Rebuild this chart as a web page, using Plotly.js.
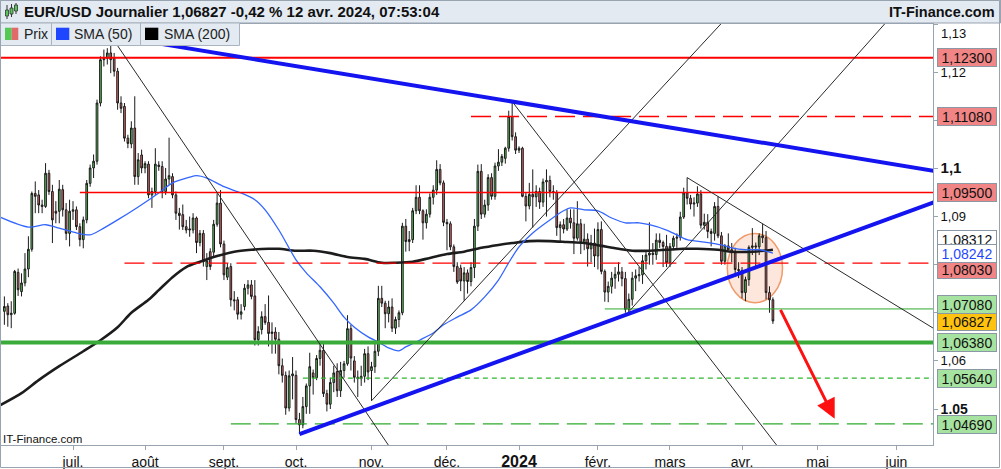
<!DOCTYPE html>
<html>
<head>
<meta charset="utf-8">
<script src="https://cdn.plot.ly/plotly-3.0.1.min.js"></script>
<style>
html,body{margin:0;padding:0;background:#fff;}
#chart{width:1001px;height:469px;}
</style>
</head>
<body>
<div id="chart"></div>
<script>
// ---------------- DATA ----------------
const firstSession = '2023-06-05';
// daily candles [open, high, low, close], one row per weekday
const ohlcJun23 = [
 [1.0703,1.0734,1.0675,1.0713],[1.0714,1.0720,1.0671,1.0696],[1.0696,1.0724,1.0668,1.0699],[1.0699,1.0789,1.0696,1.0786],[1.0784,1.0792,1.0735,1.0748],
 [1.0744,1.0782,1.0734,1.0762],[1.0762,1.0824,1.0755,1.0791],[1.0791,1.0859,1.0774,1.0832],[1.0832,1.0952,1.0827,1.0948],[1.0948,1.0973,1.0907,1.0942],
 [1.0945,1.0955,1.0907,1.0924],[1.0924,1.0935,1.0907,1.0921],[1.0921,1.1011,1.0918,1.0990],[1.0990,1.0997,1.0945,1.0952],[1.0952,1.0966,1.0845,1.0893],
 [1.0911,1.0932,1.0886,1.0907],[1.0911,1.0976,1.0886,1.0957],[1.0956,1.0966,1.0900,1.0914],[1.0914,1.0928,1.0851,1.0865],[1.0865,1.0935,1.0838,1.0911]
];
const ohlcJul23 = [
 [1.0911,1.0932,1.0893,1.0914],[1.0914,1.0921,1.0872,1.0879],[1.0879,1.0886,1.0838,1.0852],[1.0852,1.0900,1.0834,1.0893],[1.0893,1.0976,1.0886,1.0969],
 [1.0969,1.1008,1.0962,1.1001],[1.1001,1.1029,1.0980,1.1015],[1.1015,1.1143,1.1008,1.1136],[1.1136,1.1233,1.1129,1.1226],[1.1226,1.1247,1.1212,1.1229],
 [1.1229,1.1250,1.1216,1.1240],[1.1240,1.1276,1.1198,1.1226],[1.1229,1.1240,1.1191,1.1202],[1.1202,1.1209,1.1122,1.1136],[1.1136,1.1150,1.1115,1.1125],
 [1.1129,1.1136,1.1056,1.1063],[1.1063,1.1070,1.1042,1.1052],[1.1051,1.1098,1.1042,1.1084],[1.1084,1.1150,1.0966,1.0983],[1.0983,1.1032,1.0966,1.1018],
 [1.1028,1.1039,1.0990,1.1001]
];
const ohlcAug23 = [
 [1.1001,1.1015,1.0990,1.1010],[1.1009,1.1015,1.0938,1.0945],[1.0945,1.0960,1.0918,1.0952],[1.0952,1.1042,1.0945,1.1009],
 [1.1007,1.1015,1.0995,1.1004],[1.1004,1.1015,1.0938,1.0952],[1.0952,1.1001,1.0945,1.0978],[1.0978,1.1064,1.0966,1.0985],[1.0983,1.0990,1.0938,1.0945],
 [1.0945,1.0952,1.0893,1.0907],[1.0907,1.0918,1.0873,1.0902],[1.0904,1.0925,1.0872,1.0879],[1.0879,1.0893,1.0865,1.0872],[1.0872,1.0900,1.0858,1.0874],
 [1.0872,1.0907,1.0865,1.0897],[1.0897,1.0900,1.0824,1.0846],[1.0846,1.0872,1.0838,1.0865],[1.0865,1.0872,1.0796,1.0806],[1.0796,1.0824,1.0768,1.0808],
 [1.0827,1.0834,1.0789,1.0796],[1.0826,1.0893,1.0817,1.0884],[1.0884,1.0948,1.0879,1.0928],[1.0928,1.0955,1.0836,1.0843]
];
const ohlcSep23 = [
 [1.0843,1.0850,1.0768,1.0779],
 [1.0774,1.0803,1.0768,1.0794],[1.0796,1.0803,1.0713,1.0727],[1.0727,1.0745,1.0705,1.0725],[1.0727,1.0733,1.0686,1.0697],[1.0697,1.0718,1.0686,1.0702],
 [1.0713,1.0760,1.0705,1.0751],[1.0751,1.0768,1.0738,1.0758],[1.0758,1.0768,1.0728,1.0734],[1.0735,1.0768,1.0632,1.0644],[1.0644,1.0672,1.0632,1.0661],
 [1.0665,1.0703,1.0655,1.0692],[1.0692,1.0718,1.0675,1.0680],[1.0680,1.0736,1.0630,1.0657],[1.0657,1.0680,1.0615,1.0660],[1.0660,1.0670,1.0615,1.0645],
 [1.0645,1.0660,1.0572,1.0590],[1.0590,1.0605,1.0555,1.0570],[1.0570,1.0578,1.0488,1.0502],[1.0502,1.0580,1.0495,1.0569],[1.0569,1.0608,1.0520,1.0573]
];
const ohlcOct23 = [
 [1.0570,1.0580,1.0470,1.0478],[1.0478,1.0492,1.0448,1.0467],[1.0467,1.0525,1.0460,1.0505],[1.0505,1.0553,1.0490,1.0548],[1.0548,1.0617,1.0490,1.0588],
 [1.0575,1.0582,1.0530,1.0565],[1.0565,1.0612,1.0560,1.0605],[1.0605,1.0640,1.0590,1.0622],[1.0622,1.0640,1.0525,1.0532],[1.0532,1.0540,1.0495,1.0510],
 [1.0510,1.0565,1.0500,1.0555],[1.0555,1.0590,1.0535,1.0575],[1.0578,1.0595,1.0525,1.0538],[1.0538,1.0598,1.0525,1.0580],[1.0580,1.0600,1.0565,1.0594],
 [1.0594,1.0695,1.0590,1.0667],[1.0667,1.0675,1.0580,1.0606],[1.0600,1.0610,1.0555,1.0566],[1.0566,1.0580,1.0525,1.0563],[1.0563,1.0590,1.0548,1.0568],
 [1.0568,1.0625,1.0555,1.0615],[1.0615,1.0630,1.0560,1.0577]
];
const ohlcNov23 = [
 [1.0580,1.0598,1.0517,1.0588],[1.0588,1.0640,1.0575,1.0620],[1.0620,1.0756,1.0610,1.0730],
 [1.0730,1.0756,1.0712,1.0720],[1.0720,1.0725,1.0668,1.0698],[1.0698,1.0725,1.0680,1.0712],[1.0712,1.0730,1.0660,1.0668],[1.0668,1.0692,1.0656,1.0686],
 [1.0686,1.0705,1.0670,1.0700],[1.0700,1.0887,1.0695,1.0880],[1.0880,1.0895,1.0827,1.0848],[1.0848,1.0870,1.0828,1.0852],[1.0852,1.0918,1.0845,1.0912],
 [1.0912,1.0965,1.0905,1.0940],[1.0940,1.0965,1.0905,1.0912],[1.0912,1.0915,1.0852,1.0887],[1.0887,1.0915,1.0875,1.0905],[1.0905,1.0948,1.0898,1.0940],
 [1.0940,1.0965,1.0925,1.0955],[1.0955,1.1017,1.0945,1.0998],[1.0998,1.1009,1.0965,1.0970],[1.0970,1.0975,1.0880,1.0888]
];
const ohlcDec23 = [
 [1.0888,1.0895,1.0830,1.0885],
 [1.0885,1.0890,1.0830,1.0837],[1.0837,1.0842,1.0785,1.0796],[1.0796,1.0805,1.0760,1.0764],[1.0793,1.0800,1.0745,1.0766],[1.0766,1.0795,1.0725,1.0783],
 [1.0783,1.0790,1.0740,1.0765],[1.0765,1.0805,1.0755,1.0794],[1.0794,1.0895,1.0772,1.0880],[1.0880,1.1008,1.0870,1.0994],[1.0994,1.1009,1.0895,1.0905],
 [1.0905,1.0935,1.0898,1.0924],[1.0924,1.0988,1.0912,1.0981],[1.0981,1.0990,1.0935,1.0942],[1.0942,1.1012,1.0935,1.1005],[1.1005,1.1040,1.0995,1.1013],
 [1.1013,1.1030,1.1005,1.1025],[1.1021,1.1045,1.1010,1.1042],[1.1042,1.1120,1.1035,1.1108],[1.1108,1.1139,1.1058,1.1066],[1.1066,1.1075,1.1030,1.1038]
];
const ohlcJan24 = [
 [1.1038,1.1046,1.1032,1.1042],[1.1042,1.1045,1.0940,1.0942],[1.0942,1.0950,1.0890,1.0922],[1.0922,1.0970,1.0915,1.0946],[1.0946,1.0998,1.0877,1.0941],
 [1.0941,1.0965,1.0920,1.0952],[1.0952,1.0960,1.0916,1.0930],[1.0930,1.0979,1.0920,1.0972],[1.0972,1.0998,1.0900,1.0975],[1.0975,1.0985,1.0940,1.0952],
 [1.0952,1.0965,1.0935,1.0950],[1.0950,1.0955,1.0860,1.0877],[1.0877,1.0890,1.0845,1.0883],[1.0883,1.0895,1.0865,1.0874],[1.0874,1.0915,1.0870,1.0897],
 [1.0897,1.0915,1.0875,1.0887],[1.0887,1.0915,1.0822,1.0855],[1.0855,1.0932,1.0850,1.0885],[1.0885,1.0895,1.0822,1.0845],[1.0845,1.0885,1.0830,1.0853],
 [1.0853,1.0865,1.0796,1.0833],[1.0833,1.0862,1.0805,1.0845],[1.0845,1.0875,1.0795,1.0818]
];
const ohlcFeb24 = [
 [1.0818,1.0888,1.0790,1.0873],[1.0873,1.0890,1.0780,1.0786],
 [1.0786,1.0790,1.0723,1.0743],[1.0743,1.0765,1.0722,1.0755],[1.0755,1.0785,1.0740,1.0772],[1.0772,1.0795,1.0750,1.0780],[1.0780,1.0805,1.0765,1.0785],
 [1.0785,1.0795,1.0755,1.0771],[1.0771,1.0785,1.0700,1.0707],[1.0707,1.0740,1.0695,1.0728],[1.0728,1.0785,1.0715,1.0772],[1.0772,1.0790,1.0745,1.0777],
 [1.0777,1.0795,1.0765,1.0779],[1.0779,1.0820,1.0760,1.0808],[1.0808,1.0830,1.0790,1.0820],[1.0820,1.0888,1.0800,1.0824],[1.0824,1.0845,1.0800,1.0821],
 [1.0821,1.0865,1.0810,1.0851],[1.0851,1.0865,1.0835,1.0846],[1.0846,1.0850,1.0795,1.0838],[1.0838,1.0862,1.0795,1.0804]
];
const ohlcMar24 = [
 [1.0804,1.0845,1.0795,1.0838],
 [1.0838,1.0860,1.0830,1.0855],[1.0855,1.0865,1.0835,1.0857],[1.0857,1.0910,1.0850,1.0899],[1.0899,1.0960,1.0895,1.0949],[1.0949,1.0981,1.0925,1.0938],
 [1.0938,1.0945,1.0915,1.0926],[1.0926,1.0940,1.0900,1.0928],[1.0928,1.0963,1.0920,1.0947],[1.0947,1.0955,1.0875,1.0882],[1.0882,1.0906,1.0873,1.0888],
 [1.0888,1.0905,1.0855,1.0869],[1.0869,1.0875,1.0838,1.0865],[1.0865,1.0930,1.0850,1.0921],[1.0921,1.0942,1.0855,1.0860],[1.0860,1.0868,1.0800,1.0807],
 [1.0807,1.0843,1.0800,1.0839],[1.0839,1.0865,1.0830,1.0831],[1.0831,1.0845,1.0805,1.0825],[1.0825,1.0835,1.0775,1.0790],[1.0790,1.0805,1.0772,1.0788]
];
const ohlcApr24 = [
 [1.0788,1.0795,1.0730,1.0742],[1.0742,1.0775,1.0724,1.0769],[1.0769,1.0840,1.0756,1.0836],[1.0836,1.0876,1.0820,1.0839],[1.0839,1.0846,1.0792,1.0837],
 [1.0837,1.0865,1.0820,1.0860],[1.0860,1.0885,1.0845,1.0856],[1.0856,1.0870,1.0728,1.0742],[1.0742,1.0755,1.0700,1.0727],[1.0727,1.0732,1.0677,1.0683]
];

// moving averages
const sma50Dates = ['2023-06-01','2023-06-14','2023-06-21','2023-06-27','2023-07-04','2023-07-10','2023-07-13','2023-07-20','2023-07-28','2023-08-07',
 '2023-08-11','2023-08-18','2023-08-22','2023-08-25','2023-09-01','2023-09-08','2023-09-14','2023-09-19','2023-09-25','2023-10-02',
 '2023-10-05','2023-10-11','2023-10-17','2023-10-20','2023-10-25','2023-10-31','2023-11-03','2023-11-08','2023-11-13','2023-11-15',
 '2023-11-21','2023-11-27','2023-11-30','2023-12-06','2023-12-12','2023-12-18','2023-12-22','2023-12-27','2024-01-01','2024-01-05',
 '2024-01-12','2024-01-18','2024-01-22','2024-01-26','2024-02-01','2024-02-07','2024-02-13','2024-02-19','2024-02-22','2024-02-29',
 '2024-03-05','2024-03-08','2024-03-15','2024-03-22','2024-03-27','2024-04-02','2024-04-08','2024-04-12'];
const sma50Values = [1.0901,1.0878,1.0883,1.0876,1.0866,1.0862,1.0872,1.0893,1.0920,1.0949,
 1.0970,1.0982,1.0985,1.0980,1.0962,1.0949,1.0935,1.0914,1.0872,1.0810,
 1.0783,1.0754,1.0720,1.0691,1.0670,1.0650,1.0639,1.0627,1.0621,1.0629,
 1.0643,1.0658,1.0675,1.0691,1.0706,1.0733,1.0768,1.0804,1.0837,1.0866,
 1.0893,1.0912,1.0918,1.0914,1.0912,1.0897,1.0887,1.0887,1.0883,1.0872,
 1.0862,1.0852,1.0847,1.0841,1.0835,1.0831,1.0831,1.0824];
const sma200Dates = ['2023-06-01','2023-06-12','2023-06-19','2023-06-27','2023-07-06','2023-07-13','2023-07-20','2023-07-26','2023-08-02','2023-08-07',
 '2023-08-11','2023-08-17','2023-08-23','2023-08-30','2023-09-06','2023-09-13','2023-09-20','2023-09-25','2023-10-02','2023-10-09',
 '2023-10-16','2023-10-23','2023-10-30','2023-11-06','2023-11-10','2023-11-17','2023-11-24','2023-12-01','2023-12-08','2023-12-15',
 '2023-12-22','2023-12-28','2024-01-04','2024-01-12','2024-01-19','2024-01-26','2024-02-02','2024-02-09','2024-02-15','2024-02-22',
 '2024-02-29','2024-03-07','2024-03-13','2024-03-21','2024-03-27','2024-04-04','2024-04-12'];
const sma200Values = [1.0505,1.0533,1.0560,1.0589,1.0620,1.0643,1.0670,1.0700,1.0727,1.0747,
 1.0774,1.0795,1.0806,1.0818,1.0827,1.0831,1.0833,1.0833,1.0829,1.0829,
 1.0824,1.0816,1.0812,1.0804,1.0804,1.0806,1.0814,1.0822,1.0827,1.0835,
 1.0841,1.0845,1.0849,1.0849,1.0847,1.0845,1.0839,1.0833,1.0829,1.0829,
 1.0831,1.0833,1.0833,1.0831,1.0827,1.0827,1.0831];

// horizontal levels
const levelPrices = [1.1230, 1.1108, 1.0950, 1.0803, 1.0708, 1.0638, 1.0564, 1.0469];
const levelFrom   = ['2023-06-01','2023-12-12','2023-07-05','2023-07-24','2024-02-05','2023-06-01','2023-10-04','2023-09-05'];

// drawn trend lines (anchor points)
const trendFromDate  = ['2023-07-18','2023-12-28','2024-03-08','2023-11-01','2024-02-14','2023-07-18','2023-10-03'];
const trendFromPrice = [1.1276, 1.1139, 1.0981, 1.0517, 1.0702, 1.1276, 1.0448];
const trendToDate    = ['2023-08-30','2024-03-12','2024-04-09','2023-12-07','2024-04-12','2023-12-28','2024-02-14'];
const trendToPrice   = [1.0950, 1.0648, 1.0885, 1.0717, 1.1039, 1.1139, 1.0698];

// right-hand price labels
const tagPrices = [1.12300, 1.11080, 1.09500, 1.08312, 1.08030, 1.08242, 1.06827, 1.07080, 1.06380, 1.05640, 1.04690];
const tagTexts  = ['1,12300','1,11080','1,09500','1,08312','1,08030','1,08242','1,06827','1,07080','1,06380','1,05640','1,04690'];

// axis ticks (ticks hidden under the price tags carry no text)
const monthTickDates = ['2023-07-03','2023-08-01','2023-09-01','2023-10-02','2023-11-01','2023-12-01','2024-01-01','2024-02-01','2024-03-01','2024-04-01','2024-05-01','2024-06-03'];
const monthTickText  = ['juil.','août','sept.','oct.','nov.','déc.','<b><span style="font-size:16px">2024</span></b>','févr.','mars','avr.','mai','juin'];
const priceTicks     = [1.13, 1.12, 1.11, 1.10, 1.09, 1.08, 1.07, 1.06, 1.05];
const priceTickText  = ['', '1,12', '', '<b><span style="font-size:15px">1,1</span></b>', '1,09', '', '', '1,06', '<b><span style="font-size:14px">1.05</span></b>'];

// highlight ellipse and projected move
const zoneFrom = '2024-03-25', zoneTo = '2024-04-16', zoneLow = 1.0721, zoneHigh = 1.0865;
const arrowFrom = ['2024-04-16', 1.0709], arrowTo = ['2024-05-08', 1.0480];

// ---------------- BUILD ----------------
function buildCalendar(from, to){
  const out = []; let t = Date.parse(from + 'T00:00:00Z'); const end = Date.parse(to + 'T00:00:00Z');
  while (t <= end){ const d = new Date(t); const wd = d.getUTCDay(); if (wd !== 0 && wd !== 6) out.push(d.toISOString().slice(0,10)); t += 86400000; }
  return out;
}
const calendar = buildCalendar('2023-06-01','2024-08-30');
const slot = {}; calendar.forEach((d,i)=>{ slot[d] = i; });
function X(d){
  if (slot[d] !== undefined) return slot[d];
  let t = Date.parse(d + 'T00:00:00Z');
  for (let k=0;k<4;k++){ t += 86400000; const s = new Date(t).toISOString().slice(0,10); if (slot[s] !== undefined) return slot[s]; }
  return NaN;
}

const rows = [].concat(ohlcJun23, ohlcJul23, ohlcAug23, ohlcSep23, ohlcOct23, ohlcNov23, ohlcDec23, ohlcJan24, ohlcFeb24, ohlcMar24, ohlcApr24);
const x0 = X(firstSession);
const xs = rows.map((r,i)=>x0+i);

const FONT = 'Liberation Sans, Arial, Helvetica, sans-serif';
const W = 1001, H = 469, ML = 1, MR = 68, MT = 24, MB = 24;
const PW = W - ML - MR, PH = H - MT - MB;
const px = v => (v - ML) / PW;
const py = v => (H - MB - v) / PH;

const traces = [
  {
    type: 'candlestick', x: xs,
    open: rows.map(r=>r[0]), high: rows.map(r=>r[1]), low: rows.map(r=>r[2]), close: rows.map(r=>r[3]),
    increasing: {line: {color: '#1a1a1a', width: 1}, fillcolor: '#5cc85c'},
    decreasing: {line: {color: '#1a1a1a', width: 1}, fillcolor: '#e06a6a'},
    whiskerwidth: 0, hoverinfo: 'skip', showlegend: false
  },
  {
    type: 'scatter', mode: 'lines', x: sma200Dates.map(X), y: sma200Values,
    line: {color: '#1c1c1c', width: 2.6, shape: 'spline', smoothing: 0.8}, hoverinfo: 'skip', showlegend: false
  },
  {
    type: 'scatter', mode: 'lines', x: sma50Dates.map(X), y: sma50Values,
    line: {color: '#3366ff', width: 1.3, shape: 'spline', smoothing: 0.8}, hoverinfo: 'skip', showlegend: false
  }
];

const shapes = [];
// highlight zone (below candles)
shapes.push({type:'circle', layer:'below', xref:'x', yref:'y', x0: X(zoneFrom)+0.7, x1: X(zoneTo)+0.8, y0: zoneLow, y1: zoneHigh,
  fillcolor:'rgba(250,180,145,0.32)', line:{color:'#f09a6a', width:1.5}});

// horizontal levels
const levelStyle = [
  {color:'#ff0000', width:2, dash:'solid'},
  {color:'#ff0000', width:1.3, dash:'20px,8px'},
  {color:'#ff0000', width:1.3, dash:'solid'},
  {color:'#ff0000', width:1.3, dash:'20px,8px'},
  {color:'#2eaa2e', width:1, dash:'solid'},
  {color:'#39ab39', width:4, dash:'solid'},
  {color:'#2db82d', width:1.2, dash:'5px,4px'},
  {color:'#2eaa2e', width:1.2, dash:'20px,8px'}
];
levelPrices.forEach((p,i)=>{
  shapes.push({type:'line', xref:'x', yref:'y', x0: X(levelFrom[i]), x1: X(levelFrom[i]) + 600, y0: p, y1: p, line: levelStyle[i]});
});

// trend lines
trendFromDate.forEach((d,i)=>{
  const xa = X(d), xb = X(trendToDate[i]);
  const slope = (trendToPrice[i] - trendFromPrice[i]) / (xb - xa);
  const xe = xa + 500;
  const bold = i >= 5;
  shapes.push({type:'line', xref:'x', yref:'y', x0: xa, y0: trendFromPrice[i], x1: xe, y1: trendFromPrice[i] + slope*(xe - xa),
    line: bold ? {color:'#1414f0', width:4} : {color:'#2a2a2a', width:1}});
});

// header / legend / frame (paper space)
const chrome = '#98a4b0';
shapes.push({type:'rect', xref:'paper', yref:'paper', x0: px(0), x1: px(1000.5), y0: py(23), y1: py(0), fillcolor:'#e3eaf1', line:{color:chrome, width:1}});
[[0,51],[51,140],[140,239]].forEach(b=>{
  shapes.push({type:'rect', xref:'paper', yref:'paper', x0: px(b[0]+0.5), x1: px(b[1]+0.5), y0: py(45.5), y1: py(23), fillcolor:'#e3eaf1', line:{color:'#a9b4bf', width:1}});
});
shapes.push({type:'rect', xref:'paper', yref:'paper', x0: px(5), x1: px(11.7), y0: py(40), y1: py(27.7), fillcolor:'#55c855', line:{width:0}});
shapes.push({type:'rect', xref:'paper', yref:'paper', x0: px(11.7), x1: px(18.3), y0: py(40), y1: py(27.7), fillcolor:'#e06a6a', line:{width:0}});
shapes.push({type:'rect', xref:'paper', yref:'paper', x0: px(56), x1: px(69.3), y0: py(40), y1: py(27.7), fillcolor:'#1f46ff', line:{width:0}});
shapes.push({type:'rect', xref:'paper', yref:'paper', x0: px(145), x1: px(158.3), y0: py(40), y1: py(27.7), fillcolor:'#000000', line:{width:0}});
// small header icon
[[7,10,16,5,19],[11.5,8,14,4,17],[16,5,11,3,14]].forEach(c=>{
  shapes.push({type:'line', xref:'paper', yref:'paper', x0: px(c[0]), x1: px(c[0]), y0: py(c[4]), y1: py(c[3]), line:{color:'#333', width:1}});
  shapes.push({type:'rect', xref:'paper', yref:'paper', x0: px(c[0]-1.5), x1: px(c[0]+1.5), y0: py(c[2]), y1: py(c[1]), fillcolor:'#55c855', line:{color:'#333', width:0.8}});
});
// outer frame
shapes.push({type:'rect', xref:'paper', yref:'paper', x0: px(0.5), x1: px(999.5), y0: py(467.5), y1: py(0.5), line:{color:chrome, width:1}});

// annotations
const annotations = [];
annotations.push({xref:'paper', yref:'paper', x: px(22), y: py(12), xanchor:'left', yanchor:'middle', showarrow:false,
  text:'<b>EUR/USD Journalier 1,06827 -0,42 % 12 avr. 2024, 07:53:04</b>', font:{family:FONT, size:15, color:'#111'}});
annotations.push({xref:'paper', yref:'paper', x: px(997), y: py(12), xanchor:'right', yanchor:'middle', showarrow:false,
  text:'<b>IT-Finance.com</b>', font:{family:FONT, size:14.5, color:'#111'}});
[['Prix',22],['SMA (50)',72],['SMA (200)',161.5]].forEach(t=>{
  annotations.push({xref:'paper', yref:'paper', x: px(t[1]), y: py(34), xanchor:'left', yanchor:'middle', showarrow:false,
    text:t[0], font:{family:FONT, size:14, color:'#222'}});
});
annotations.push({xref:'paper', yref:'paper', x: px(1), y: py(438.5), xanchor:'left', yanchor:'middle', showarrow:false,
  text:'IT-Finance.com', font:{family:FONT, size:11.5, color:'#111'}});
annotations.push({xref:'paper', yref:'y', x: 1, y: 1.13, xanchor:'left', yanchor:'middle', xshift: 6, yshift: -9, showarrow:false,
  text:'1,13', font:{family:FONT, size:13, color:'#111'}});

// price tags
const tagStyle = {
  '1,12300':{bg:'#f18585', fg:'#111', dy:0}, '1,11080':{bg:'#f18585', fg:'#111', dy:0}, '1,09500':{bg:'#f18585', fg:'#111', dy:0},
  '1,08312':{bg:'#ffffff', fg:'#111', dy:10}, '1,08030':{bg:'#f18585', fg:'#111', dy:-6}, '1,08242':{bg:'#ffffff', fg:'#1f46ff', dy:0},
  '1,06827':{bg:'#ffc20f', fg:'#111', dy:0}, '1,07080':{bg:'#a6e3a0', fg:'#111', dy:4}, '1,06380':{bg:'#a6e3a0', fg:'#111', dy:0},
  '1,05640':{bg:'#a6e3a0', fg:'#111', dy:0}, '1,04690':{bg:'#a6e3a0', fg:'#111', dy:-1}
};
tagPrices.forEach((p,i)=>{
  const s = tagStyle[tagTexts[i]];
  annotations.push({xref:'paper', yref:'y', x: 1, y: p, xanchor:'left', yanchor:'middle', xshift: 4, yshift: s.dy, showarrow:false,
    text: tagTexts[i], font:{family:FONT, size:14, color:s.fg}, bgcolor: s.bg, bordercolor:'#8a98a5', borderwidth:1, borderpad:1,
    width: 56, height: 15, align:'center'});
});

// red projection arrow
annotations.push({xref:'x', yref:'y', axref:'x', ayref:'y', x: X(arrowTo[0]), y: arrowTo[1], ax: X(arrowFrom[0]), ay: arrowFrom[1],
  text:'', showarrow:true, arrowhead:2, arrowsize:1.3, arrowwidth:3, arrowcolor:'#ff1010', standoff:0});

const layout = {
  width: W, height: H,
  margin: {l: ML, r: MR, t: MT, b: MB, pad: 0},
  paper_bgcolor: '#ffffff', plot_bgcolor: '#ffffff',
  showlegend: false,
  font: {family: FONT, size: 13, color: '#111'},
  xaxis: {
    type: 'linear', range: [X('2023-06-02') + 0.015, X('2024-06-17') + 0.66],
    rangeslider: {visible: false}, showgrid: false, zeroline: false,
    showline: true, mirror: true, linecolor: chrome, linewidth: 1,
    ticks: 'outside', ticklen: 4, tickcolor: chrome,
    tickvals: monthTickDates.map(X), ticktext: monthTickText,
    tickfont: {family: FONT, size: 14, color: '#111'}, fixedrange: true
  },
  yaxis: {
    side: 'right', range: [1.04252, 1.13002], showgrid: false, zeroline: false,
    showline: true, mirror: true, linecolor: chrome, linewidth: 1,
    ticks: 'outside', ticklen: 4, tickcolor: chrome,
    tickvals: priceTicks, ticktext: priceTickText,
    tickfont: {family: FONT, size: 13, color: '#111'}, fixedrange: true
  },
  shapes: shapes,
  annotations: annotations
};

Plotly.newPlot('chart', traces, layout, {displayModeBar: false, staticPlot: true});
</script>
</body>
</html>
